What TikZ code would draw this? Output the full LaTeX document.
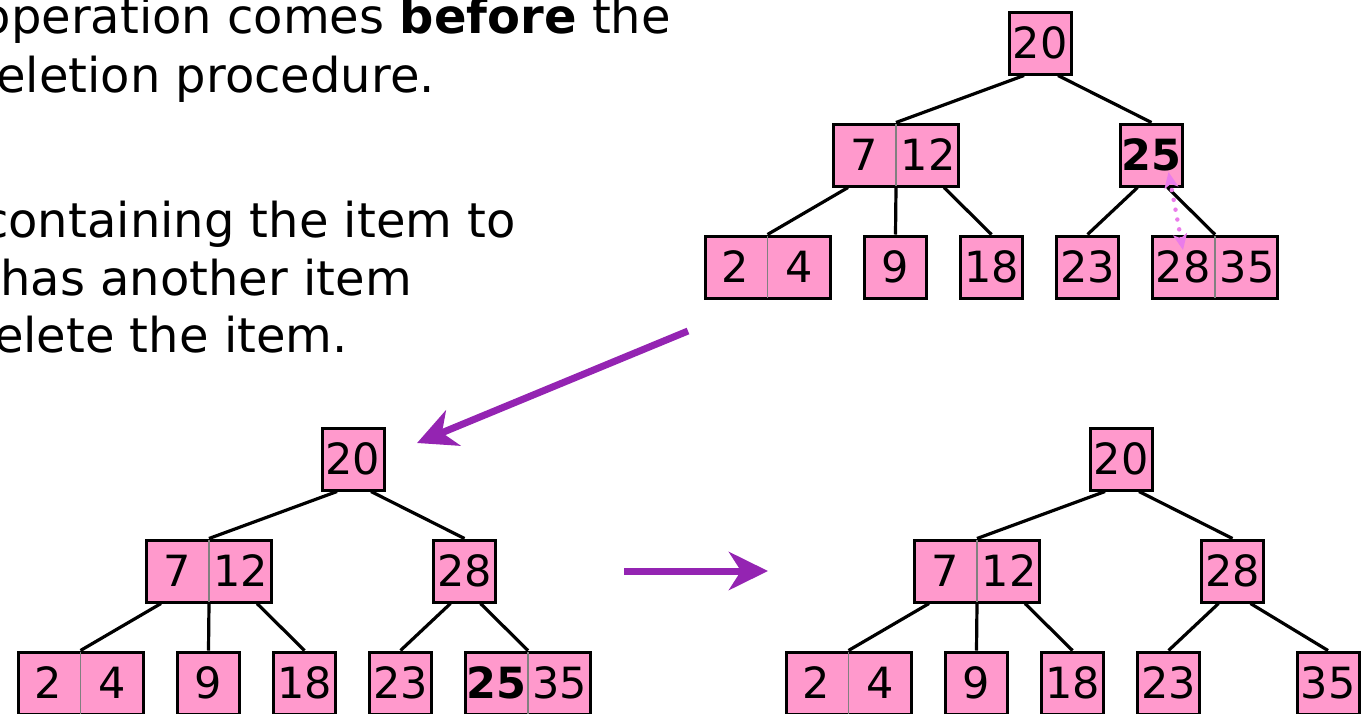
\documentclass[tikz,border=0pt]{standalone}
\usepackage{fontspec}
\setmainfont{DejaVu Sans}
\usetikzlibrary{arrows.meta,calc}

\definecolor{keypink}{RGB}{255,153,204}
\definecolor{arrowpurple}{RGB}{148,36,178}
\definecolor{swapviolet}{RGB}{234,124,234}
\definecolor{splitgray}{RGB}{128,128,128}

% Root, left child and the four left-hand leaves shared by every tree.
% #1 = name prefix
\newcommand{\sharedpart}[1]{%
  \node[keybox] (#1R) at (1040,43) {20};
  \node[pairbox] (#1L) at (896,155) {};
  \node[keytext] (#1L1) at ($(#1L.center)+(-32,0)$) {7};
  \node[keytext] (#1L2) at ($(#1L.center)+(32,0)$) {12};
  \draw[divider] (#1L.north) -- (#1L.south);
  \node[pairbox] (#1A) at (767.5,267) {};
  \node[keytext] (#1A1) at ($(#1A.center)+(-32,0)$) {2};
  \node[keytext] (#1A2) at ($(#1A.center)+(32,0)$) {4};
  \draw[divider] (#1A.north) -- (#1A.south);
  \node[keybox] (#1B) at (895.5,267) {9};
  \node[keybox] (#1C) at (991.5,267) {18};
  \node[keybox] (#1D) at (1087.5,267) {23};
  \draw[treeedge] ($(#1R.south)+(-16,0)$) -- (#1L.north);
  \draw[treeedge] ($(#1L.south west)+(16,0)$) -- (#1A.north);
  \draw[treeedge] (#1L.south) -- (#1B.north);
  \draw[treeedge] ($(#1L.south east)+(-16,0)$) -- (#1C.north);
}

\begin{document}
\begin{tikzpicture}[x=1pt,y=-1pt,
  keybox/.style={draw=black, line width=3pt, fill=keypink,
    minimum width=62pt, minimum height=62pt, inner sep=0pt,
    font=\fontsize{43}{43}\selectfont},
  pairbox/.style={keybox, minimum width=125pt},
  keytext/.style={inner sep=0pt, font=\fontsize{43}{43}\selectfont},
  divider/.style={splitgray, line width=1.5pt, shorten <=1.5pt, shorten >=1.5pt},
  treeedge/.style={black, line width=3.2pt},
  bodytext/.style={anchor=base east, inner sep=0pt, font=\fontsize{48}{48}\selectfont},
  bigarrow/.style={arrowpurple, line width=7pt,
    -{Stealth[length=39pt, width=38pt, inset=12pt]}},
  swaparrow/.style={swapviolet, line width=4.5pt, line cap=round,
    dash pattern=on 0pt off 10pt,
    {Stealth[length=16pt, width=14pt, inset=4pt]}-{Stealth[length=16pt, width=14pt, inset=4pt]}}
]
\useasboundingbox (0,0) rectangle (1365,713);
\clip (0,0) rectangle (1365,713);

% explanatory text
\node[bodytext] (l1) at (671,33) {operation comes \textbf{before} the};
\node[bodytext] (l2) at (435,92) {eletion procedure.};
\node[bodytext] (l3) at (516,237) {containing the item to};
\node[bodytext] (l4) at (412,295) {has another item};
\node[bodytext] (l5) at (348,352) {elete the item.};

% tree before the swap
\begin{scope}
  \sharedpart{a}
  \node[keybox] (aM) at (1151.5,155) {\textbf{25}};
  \node[pairbox] (aE) at (1215,267) {};
  \node[keytext] (aE1) at ($(aE.center)+(-32,0)$) {28};
  \node[keytext] (aE2) at ($(aE.center)+(32,0)$) {35};
  \draw[divider] (aE.north) -- (aE.south);
  \draw[treeedge] ($(aR.south)+(18,0)$) -- (aM.north);
  \draw[treeedge] ($(aM.south)+(-14,0)$) -- (aD.north);
  \draw[treeedge] ($(aM.south)+(16,0)$) -- (aE.north);
  \coordinate (swapTop) at ($(aM.center)+(17,17)$);
  \coordinate (swapBot) at ($(aE.center)+(-32,-17)$);
  \draw[swaparrow] (swapBot) -- (swapTop);
\end{scope}

% tree after swapping 25 with its successor 28
\begin{scope}[shift={(-687,416)}]
  \sharedpart{b}
  \node[keybox] (bM) at (1151.5,155) {28};
  \node[pairbox] (bE) at (1215,267) {};
  \node[keytext] (bE1) at ($(bE.center)+(-32,0)$) {\textbf{25}};
  \node[keytext] (bE2) at ($(bE.center)+(32,0)$) {35};
  \draw[divider] (bE.north) -- (bE.south);
  \draw[treeedge] ($(bR.south)+(18,0)$) -- (bM.north);
  \draw[treeedge] ($(bM.south)+(-14,0)$) -- (bD.north);
  \draw[treeedge] ($(bM.south)+(16,0)$) -- (bE.north);
\end{scope}

% tree after deleting 25 from the leaf
\begin{scope}[shift={(81,416)}]
  \sharedpart{c}
  \node[keybox] (cM) at (1151.5,155) {28};
  \node[keybox] (cE) at (1247,267) {35};
  \draw[treeedge] ($(cR.south)+(18,0)$) -- (cM.north);
  \draw[treeedge] ($(cM.south)+(-14,0)$) -- (cD.north);
  \draw[treeedge] ($(cM.south)+(18,0)$) -- (cE.north);
\end{scope}

% step arrows
\coordinate (p1s) at (688,331);
\coordinate (p1e) at (417,443);
\draw[bigarrow] (p1s) -- (p1e);
\coordinate (p2s) at (624,571);
\coordinate (p2e) at (768,571);
\draw[bigarrow] (p2s) -- (p2e);
\end{tikzpicture}
\end{document}
